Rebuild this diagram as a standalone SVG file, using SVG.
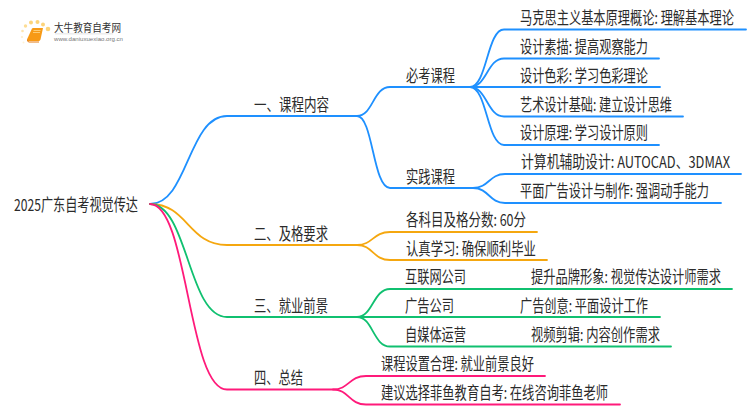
<svg xmlns="http://www.w3.org/2000/svg" width="750" height="410" viewBox="0 0 750 410">
<style>
text{font-family:"Noto Sans CJK SC","Liberation Sans",sans-serif;font-size:16.500px;fill:#2b2b2b}
.l{fill:none;stroke-width:1.800;stroke-linecap:round}
.b{stroke:#1e90ff}.y{stroke:#f5a70f}.g{stroke:#10c070}.p{stroke:#ff1a7a}
.d{fill:#fcd47a}
</style>
<rect width="750" height="410" fill="#fff"/>
<g id="logo">
<circle class="d" cx="48" cy="29" r="2.300"/><circle class="d" cx="43" cy="24.500" r="2"/><circle class="d" cx="37.500" cy="22" r="2"/><circle class="d" cx="31" cy="22.500" r="2"/><circle class="d" cx="25.500" cy="26" r="1.700" opacity=".8"/><circle class="d" cx="22.500" cy="31" r="1.300" opacity=".6"/><circle class="d" cx="22" cy="37" r="1.100" opacity=".4"/><circle class="d" cx="23.500" cy="42.500" r="1" opacity=".3"/>
<path d="M32 28.500Q32.500 28 33 28H43L40.500 39.500Q40 41 38.500 41H28.500Q26.800 41 27.200 39Z" fill="#f79a16"/>
<path d="M27.500 39.500Q27.300 42 29 42H39" fill="none" stroke="#e67a10" stroke-width="1"/>
<path d="M33.500 30.500H40.500M33 32.500H40" stroke="#ffd98a" stroke-width=".8"/>
<text x="54" y="32" style="font-size:11px;fill:#333" textLength="67" lengthAdjust="spacingAndGlyphs">大牛教育自考网</text>
<rect x="55" y="33.500" width="58" height=".8" fill="#ddd"/>
<text x="54" y="41" style="font-size:5.500px;fill:#777;font-family:'Liberation Sans',sans-serif" textLength="69" lengthAdjust="spacingAndGlyphs">www.daniuxuexiao.org.cn</text>
</g>
<g id="connectors">
<path class="l b" d="M150 204C188 204 188 116 227 116H357C373 116 373 87 390 87H470"/>
<path class="l b" d="M357 116C373 116 373 188 390 188H473"/>
<path class="l b" d="M470 87C487 87 487 29.500 504 29.500H746"/>
<path class="l b" d="M470 87C487 87 487 58.500 504 58.500H659"/>
<path class="l b" d="M470 87H660"/>
<path class="l b" d="M470 87C487 87 487 116.500 504 116.500H683"/>
<path class="l b" d="M470 87C487 87 487 145 504 145H659"/>
<path class="l b" d="M473 188C489 188 489 174 505 174H741"/>
<path class="l b" d="M473 188C489 188 489 203 505 203H721"/>
<path class="l y" d="M150 204C188 204 188 245 227 245H357C373 245 373 232 390 232H537"/>
<path class="l y" d="M357 245C373 245 373 260 390 260H547"/>
<path class="l g" d="M150 204C188 204 188 317 227 317H357C373 317 373 289 390 289H732"/>
<path class="l g" d="M357 317H660"/>
<path class="l g" d="M357 317C373 317 373 346.500 390 346.500H671"/>
<path class="l p" d="M150 204C188 204 188 389.500 227 389.500H333C349 389.500 349 376 366 376H545"/>
<path class="l p" d="M333 389.500C349 389.500 349 404.500 366 404.500H620"/>
</g>
<g id="root"><text transform="translate(14 211) scale(.76 1)" textLength="163" lengthAdjust="spacingAndGlyphs">2025广东自考视觉传达</text></g>
<g id="n1"><text transform="translate(254 111) scale(.76 1)" textLength="98.700" lengthAdjust="spacingAndGlyphs">一、课程内容</text></g>
<g id="n11"><text transform="translate(406 82) scale(.76 1)" textLength="64.500" lengthAdjust="spacingAndGlyphs">必考课程</text></g>
<g id="n111"><text transform="translate(520 24) scale(.76 1)" textLength="281.600" lengthAdjust="spacingAndGlyphs">马克思主义基本原理概论: 理解基本理论</text></g>
<g id="n112"><text transform="translate(520 53) scale(.76 1)" textLength="168.400" lengthAdjust="spacingAndGlyphs">设计素描: 提高观察能力</text></g>
<g id="n113"><text transform="translate(520 82) scale(.76 1)" textLength="168.400" lengthAdjust="spacingAndGlyphs">设计色彩: 学习色彩理论</text></g>
<g id="n114"><text transform="translate(520 111) scale(.76 1)" textLength="200" lengthAdjust="spacingAndGlyphs">艺术设计基础: 建立设计思维</text></g>
<g id="n115"><text transform="translate(520 139) scale(.76 1)" textLength="168.400" lengthAdjust="spacingAndGlyphs">设计原理: 学习设计原则</text></g>
<g id="n12"><text transform="translate(406 183) scale(.76 1)" textLength="64.500" lengthAdjust="spacingAndGlyphs">实践课程</text></g>
<g id="n121"><text transform="translate(521 168) scale(.76 1)" textLength="275" lengthAdjust="spacingAndGlyphs">计算机辅助设计: AUTOCAD、3DMAX</text></g>
<g id="n122"><text transform="translate(520 197) scale(.76 1)" textLength="248.700" lengthAdjust="spacingAndGlyphs">平面广告设计与制作: 强调动手能力</text></g>
<g id="n2"><text transform="translate(254 240) scale(.76 1)" textLength="97.400" lengthAdjust="spacingAndGlyphs">二、及格要求</text></g>
<g id="n21"><text transform="translate(406 226) scale(.76 1)" textLength="157.900" lengthAdjust="spacingAndGlyphs">各科目及格分数: 60分</text></g>
<g id="n22"><text transform="translate(406 255) scale(.76 1)" textLength="171" lengthAdjust="spacingAndGlyphs">认真学习: 确保顺利毕业</text></g>
<g id="n3"><text transform="translate(254 312) scale(.76 1)" textLength="97.400" lengthAdjust="spacingAndGlyphs">三、就业前景</text></g>
<g id="n31"><text transform="translate(405 283) scale(.76 1)" textLength="80.300" lengthAdjust="spacingAndGlyphs">互联网公司</text></g>
<g id="n311"><text transform="translate(531 283) scale(.76 1)" textLength="250" lengthAdjust="spacingAndGlyphs">提升品牌形象: 视觉传达设计师需求</text></g>
<g id="n32"><text transform="translate(405 312) scale(.76 1)" textLength="64.500" lengthAdjust="spacingAndGlyphs">广告公司</text></g>
<g id="n321"><text transform="translate(520 312) scale(.76 1)" textLength="168.400" lengthAdjust="spacingAndGlyphs">广告创意: 平面设计工作</text></g>
<g id="n33"><text transform="translate(405 341) scale(.76 1)" textLength="80.300" lengthAdjust="spacingAndGlyphs">自媒体运营</text></g>
<g id="n331"><text transform="translate(531 341) scale(.76 1)" textLength="169.700" lengthAdjust="spacingAndGlyphs">视频剪辑: 内容创作需求</text></g>
<g id="n4"><text transform="translate(254 384) scale(.76 1)" textLength="64.500" lengthAdjust="spacingAndGlyphs">四、总结</text></g>
<g id="n41"><text transform="translate(381 370) scale(.76 1)" textLength="201.300" lengthAdjust="spacingAndGlyphs">课程设置合理: 就业前景良好</text></g>
<g id="n42"><text transform="translate(381 399) scale(.76 1)" textLength="298.700" lengthAdjust="spacingAndGlyphs">建议选择菲鱼教育自考: 在线咨询菲鱼老师</text></g>
</svg>
